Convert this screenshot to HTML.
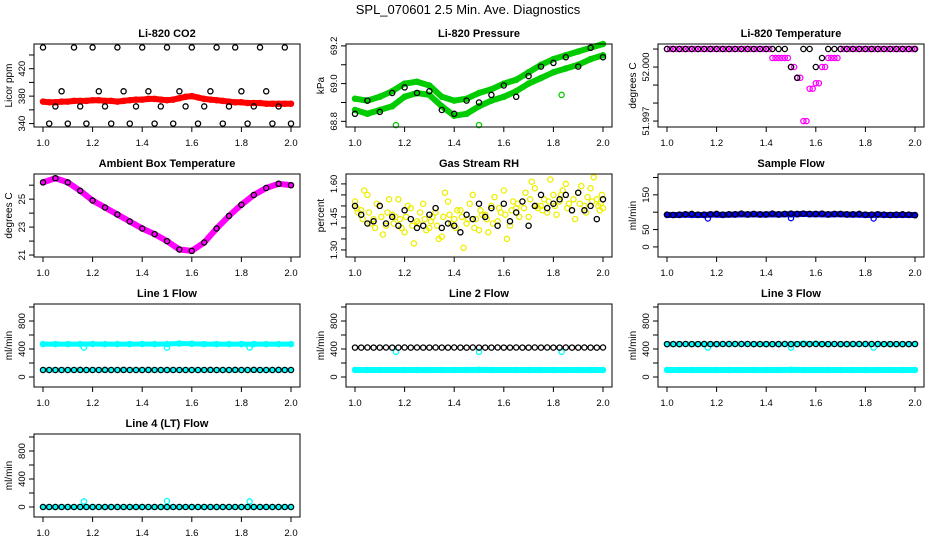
<!DOCTYPE html>
<html><head><meta charset="utf-8">
<style>
html,body{margin:0;padding:0;background:#fff;}
svg{display:block;font-family:"Liberation Sans",Arial,sans-serif;}
</style></head>
<body>
<svg id="chart" width="936" height="540" viewBox="0 0 936 540">
<text x="468" y="14" text-anchor="middle" font-size="13">SPL_070601  2.5 Min. Ave. Diagnostics</text>
</svg>
<script>
// ---- shared x categories ----
const t41 = [1.000,1.025,1.050,1.075,1.100,1.125,1.150,1.175,1.200,1.225,1.250,1.275,1.300,1.325,1.350,1.375,1.400,1.425,1.450,1.475,1.500,1.525,1.550,1.575,1.600,1.625,1.650,1.675,1.700,1.725,1.750,1.775,1.800,1.825,1.850,1.875,1.900,1.925,1.950,1.975,2.000];
const t41b = [1.0125,1.0375,1.0625,1.0875,1.1125,1.1375,1.1625,1.1875,1.2125,1.2375,1.2625,1.2875,1.3125,1.3375,1.3625,1.3875,1.4125,1.4375,1.4625,1.4875,1.5125,1.5375,1.5625,1.5875,1.6125,1.6375,1.6625,1.6875,1.7125,1.7375,1.7625,1.7875,1.8125,1.8375,1.8625,1.8875,1.9125,1.9375,1.9625,1.9875,1.995];
const t41c = [1.006,1.031,1.056,1.081,1.106,1.131,1.156,1.181,1.206,1.231,1.256,1.281,1.306,1.331,1.356,1.381,1.406,1.431,1.456,1.481,1.506,1.531,1.556,1.581,1.606,1.631,1.656,1.681,1.706,1.731,1.756,1.781,1.806,1.831,1.856,1.881,1.906,1.931,1.956,1.981,1.990];
const t21 = [1.00,1.05,1.10,1.15,1.20,1.25,1.30,1.35,1.40,1.45,1.50,1.55,1.60,1.65,1.70,1.75,1.80,1.85,1.90,1.95,2.00];
const spikeX = [1.165,1.500,1.833];
const xTicks = [1.0,1.2,1.4,1.6,1.8,2.0];
const xTickLabels = ["1.0","1.2","1.4","1.6","1.8","2.0"];

// ---- CO2 ----
const co2Red = [372,371,371,372,372,373,373,373,374,374,373,373,372,373,374,375,375,376,376,375,374,375,377,379,380,378,376,375,374,373,372,371,371,370,370,370,369,369,369,369,369];
const co2Black = [451,340,365,387,340,451,365,340,451,387,365,340,451,387,340,365,451,387,340,365,451,340,387,365,451,340,365,387,451,340,365,451,387,340,365,451,387,340,365,451,340];
const co2Ticks = [340,360,380,400,420,440];
const co2Labels = ["340","","380","","420",""];

// ---- Pressure ----
const presUpper = [68.92,68.91,68.93,68.96,69.00,69.01,68.99,68.93,68.91,68.92,68.95,68.97,69.00,69.02,69.06,69.10,69.13,69.15,69.17,69.19,69.21];
const presLower = [68.86,68.84,68.86,68.88,68.93,68.95,68.94,68.88,68.83,68.84,68.88,68.91,68.93,68.96,69.00,69.03,69.06,69.08,69.10,69.13,69.15];
const presBlack = [68.84,68.91,68.85,68.95,68.98,68.95,68.96,68.86,68.84,68.91,68.90,68.94,68.99,68.93,69.04,69.09,69.11,69.14,69.09,69.19,69.14];
const presOut = [68.78,68.78,68.94];
const presTicks = [68.8,68.9,69.0,69.1,69.2];
const presLabels = ["68.8","","69.0","","69.2"];

// ---- Li-820 Temperature ----
const tempPink = [52.001,52.001,52.001,52.001,52.001,52.001,52.001,52.001,52.001,52.001,52.001,52.001,52.001,52.001,52.001,52.001,52.001,52.0005,52.0005,52.0005,52.000,51.9994,51.9970,51.9988,51.9991,52.000,52.0005,52.0005,52.001,52.001,52.001,52.001,52.001,52.001,52.001,52.001,52.001,52.001,52.001,52.001,52.001];
const tempBlack = [52.001,52.001,52.001,52.001,52.001,52.001,52.001,52.001,52.001,52.001,52.001,52.001,52.001,52.001,52.001,52.001,52.001,52.001,52.001,52.001,52.000,51.9994,52.001,52.001,52.000,52.0005,52.001,52.001,52.001,52.001,52.001,52.001,52.001,52.001,52.001,52.001,52.001,52.001,52.001,52.001,52.001];
const tempTicks = [51.997,51.998,51.999,52.000,52.001];
const tempLabels = ["51.997","","","52.000",""];

// ---- Ambient box temperature ----
const ambient = [26.2,26.5,26.2,25.6,24.9,24.4,23.9,23.4,22.9,22.5,22.0,21.4,21.3,21.9,22.9,23.8,24.6,25.3,25.8,26.1,26.0];
const ambTicks = [21,22,23,24,25,26];
const ambLabels = ["21","","23","","25",""];

// ---- Gas stream RH ----
const rhYellowA = [1.52,1.48,1.55,1.44,1.50,1.41,1.46,1.53,1.38,1.49,1.43,1.51,1.40,1.47,1.36,1.52,1.44,1.48,1.42,1.55,1.39,1.46,1.50,1.43,1.57,1.41,1.49,1.52,1.45,1.58,1.50,1.47,1.55,1.52,1.60,1.48,1.56,1.50,1.58,1.53,1.49];
const rhYellowB = [1.47,1.57,1.42,1.51,1.37,1.53,1.45,1.40,1.50,1.33,1.47,1.39,1.45,1.35,1.56,1.42,1.48,1.31,1.51,1.44,1.46,1.38,1.54,1.47,1.35,1.52,1.45,1.56,1.61,1.49,1.53,1.62,1.46,1.57,1.51,1.44,1.59,1.54,1.63,1.48,1.55];
const rhYellowC = [1.49,1.44,1.47,1.40,1.45,1.47,1.42,1.44,1.45,1.41,1.42,1.44,1.43,1.41,1.45,1.46,1.40,1.45,1.44,1.40,1.48,1.44,1.42,1.49,1.46,1.48,1.51,1.49,1.53,1.50,1.48,1.52,1.50,1.55,1.49,1.53,1.51,1.47,1.52,1.50,1.51];
const rhBlack = [1.50,1.46,1.42,1.43,1.50,1.42,1.45,1.41,1.48,1.44,1.40,1.41,1.46,1.49,1.40,1.42,1.41,1.38,1.46,1.44,1.51,1.45,1.49,1.41,1.51,1.43,1.47,1.52,1.41,1.50,1.55,1.49,1.51,1.53,1.55,1.48,1.56,1.48,1.50,1.44,1.53];
const rhTicks = [1.30,1.35,1.40,1.45,1.50,1.55,1.60];
const rhLabels = ["1.30","","","1.45","","","1.60"];

// ---- Sample flow ----
const sampBlue = [92,92,92,93,92,92,92,93,93,92,93,93,94,93,94,93,93,94,93,94,94,94,95,94,94,94,93,94,94,93,93,93,92,92,93,92,92,92,92,92,92];
const sampBlack = [93,92,93,94,95,93,93,94,95,93,94,94,96,94,95,94,94,96,94,95,96,95,96,95,95,96,94,95,95,94,94,95,93,93,94,93,92,93,94,93,91];
const sampDips = [82,83,82];
const sampTicks = [0,50,100,150,200];
const sampLabels = ["0","50","","150",""];

// ---- Line flows ----
const l1Hi = [470,470,470,470,471,470,470,470,471,470,472,478,474,470,470,470,470,470,470,470,470];
const l1Lo = [100,100,100,100,100,100,100,100,100,100,100,100,100,100,100,100,100,100,100,100,100];
const l1Black = [100,100,100,100,100,100,101,100,100,100,101,100,100,101,100,100,100,101,100,100,100];
const l2Cyan = [100,100,100,100,100,100,100,100,100,100,101,100,100,100,100,100,100,100,100,100,100];
const l2Black = [420,420,421,420,420,421,420,420,421,420,421,420,420,421,420,420,421,420,420,421,420];
const l3Hi = [470,470,470,470,470,470,471,470,470,470,472,478,475,470,470,470,470,470,470,470,470];
const l3Lo = [100,100,100,100,100,100,100,100,100,100,101,100,100,100,100,100,100,100,100,100,100];
const l3Black = [470,470,470,471,470,470,471,470,470,471,472,472,471,471,470,470,470,470,470,471,470];
const l4Cyan = [0,0,0,0,0,0,0,0,0,0,0,0,0,0,0,0,0,0,0,0,0];
const l4Black = [0,0,0,0,0,0,0,0,0,0,0,0,0,0,0,0,0,0,0,0,0];
const flowSpikes = [80,85,80];
const flowDips = [420,420,420];
const flowTicks = [0,200,400,600,800,1000];
const flowLabels = ["0","","400","","800",""];

const NS = "http://www.w3.org/2000/svg";
const svg = document.getElementById("chart");
function mk(tag, attrs, parent){
  const e = document.createElementNS(NS, tag);
  for (const k in attrs) e.setAttribute(k, attrs[k]);
  (parent||svg).appendChild(e);
  return e;
}
const COLL = [34,346,658];
const ROWT = [44,174,304,434];
const W = 266, H = 83;

function panel(cfg){
  const L = COLL[cfg.col], T = ROWT[cfg.row], R = L+W, B = T+H;
  const g = mk("g", {});
  
  
  const xs = v => L + 9 + (v-1)*248;
  const ys = v => B - (v-cfg.ylim[0])/(cfg.ylim[1]-cfg.ylim[0])*H;
  cfg.layers.forEach(ly => {
    const lg = mk("g", {}, g);
    
    
    if (ly.band){
      const pts = ly.x.map((x,i)=>xs(x).toFixed(1)+","+ys(ly.y[i]).toFixed(1)).join(" ");
      const pl = mk("polyline", {points:pts, fill:"none", stroke:ly.color, "stroke-width":ly.band, "stroke-linejoin":"round", "stroke-linecap":"round"}, lg);
      
      
    }
    if (ly.pts !== false){
      ly.x.forEach((x,i)=>{
        const c = mk("circle", {cx:xs(x).toFixed(1), cy:ys(ly.y[i]).toFixed(1), r:2.6, fill:"none", stroke:ly.color, "stroke-width":1.3}, lg);
        
        
      });
    }
  });
  const box = mk("rect", {x:L, y:T, width:W, height:H, fill:"none", stroke:"#000", "stroke-width":1}, g);
  
  
  const xa = mk("g", {}, g);
  
  
  mk("line", {x1:xs(xTicks[0]), x2:xs(xTicks[xTicks.length-1]), y1:B, y2:B, stroke:"#000"}, xa);
  xTicks.forEach((v,i)=>{
    mk("line", {x1:xs(v), x2:xs(v), y1:B, y2:B+5, stroke:"#000"}, xa);
    const tx = mk("text", {x:xs(v), y:B+19, "text-anchor":"middle", "font-size":9.5}, xa);
    
    
    tx.textContent = xTickLabels[i];
  });
  const ya = mk("g", {}, g);
  
  
  mk("line", {x1:L, x2:L, y1:ys(cfg.yt[0]), y2:ys(cfg.yt[cfg.yt.length-1]), stroke:"#000"}, ya);
  cfg.yt.forEach((v,i)=>{
    const y = ys(v);
    mk("line", {x1:L-5, x2:L, y1:y, y2:y, stroke:"#000"}, ya);
    if (cfg.yl[i]){
      const tx = mk("text", {x:L-9, y:y, "text-anchor":"middle", "font-size":9.5, transform:`rotate(-90 ${L-9} ${y})`}, ya);
      
      
      tx.textContent = cfg.yl[i];
    }
  });
  const yt = mk("text", {x:L-22, y:(T+B)/2, "text-anchor":"middle", "font-size":10, transform:`rotate(-90 ${L-22} ${(T+B)/2})`}, g);
  
  
  yt.textContent = cfg.ylab;
  const ti = mk("text", {x:(L+R)/2, y:T-7, "text-anchor":"middle", "font-size":11, "font-weight":"bold"}, g);
  
  
  ti.textContent = cfg.title;
}

const FL = [-143,1043];
panel({name:"co2-panel", col:0,row:0,title:"Li-820 CO2",ylab:"Licor ppm",ylim:[335,456],yt:co2Ticks,yl:co2Labels,layers:[
  {name:"co2-red",x:t41,y:co2Red,color:"#f00",band:6},
  {name:"co2-black",x:t41,y:co2Black,color:"#000"}]});
panel({name:"pressure-panel", col:1,row:0,title:"Li-820 Pressure",ylab:"kPa",ylim:[68.77,69.21],yt:presTicks,yl:presLabels,layers:[
  {name:"pressure-upper",x:t21,y:presUpper,color:"#0c0",band:6},
  {name:"pressure-lower",x:t21,y:presLower,color:"#0c0",band:6},
  {name:"pressure-outliers",x:spikeX,y:presOut,color:"#0c0"},
  {name:"pressure-black",x:t21,y:presBlack,color:"#000"}]});
panel({name:"li820-temp-panel", col:2,row:0,title:"Li-820 Temperature",ylab:"degrees C",ylim:[51.99667,52.00128],yt:tempTicks,yl:tempLabels,layers:[
  {name:"temp-pink",x:t41,y:tempPink,color:"#f0f"},
  {name:"temp-pink-b",x:t41b,y:tempPink,color:"#f0f"},
  {name:"temp-black",x:t41,y:tempBlack,color:"#000"}]});
panel({name:"ambient-panel", col:0,row:1,title:"Ambient Box Temperature",ylab:"degrees C",ylim:[20.86,26.8],yt:ambTicks,yl:ambLabels,layers:[
  {name:"ambient-magenta",x:t21,y:ambient,color:"#f0f",band:6,pts:false},
  {name:"ambient-black",x:t21,y:ambient,color:"#000"}]});
panel({name:"rh-panel", col:1,row:1,title:"Gas Stream RH",ylab:"percent",ylim:[1.268,1.645],yt:rhTicks,yl:rhLabels,layers:[
  {name:"rh-yellow-a",x:t41,y:rhYellowA,color:"#ee0"},
  {name:"rh-yellow-b",x:t41b,y:rhYellowB,color:"#ee0"},
  {name:"rh-yellow-c",x:t41c,y:rhYellowC,color:"#ee0"},
  {name:"rh-black",x:t41,y:rhBlack,color:"#000"}]});
panel({name:"sample-flow-panel", col:2,row:1,title:"Sample Flow",ylab:"ml/min",ylim:[-29,210],yt:sampTicks,yl:sampLabels,layers:[
  {name:"sample-blue",x:t41,y:sampBlue,color:"#00f",band:6},
  {name:"sample-dips",x:spikeX,y:sampDips,color:"#00f"},
  {name:"sample-black",x:t41,y:sampBlack,color:"#000"}]});
panel({name:"line1-panel", col:0,row:2,title:"Line 1 Flow",ylab:"ml/min",ylim:FL,yt:flowTicks,yl:flowLabels,layers:[
  {name:"line1-cyan-high",x:t21,y:l1Hi,color:"#0ff",band:5},
  {name:"line1-cyan-dips",x:spikeX,y:flowDips,color:"#0ff"},
  {name:"line1-cyan-low",x:t21,y:l1Lo,color:"#0ff",band:5,pts:false},
  {name:"line1-black",x:t41,y:l1Black.concat(l1Black).slice(0,41),color:"#000"}]});
panel({name:"line2-panel", col:1,row:2,title:"Line 2 Flow",ylab:"ml/min",ylim:FL,yt:flowTicks,yl:flowLabels,layers:[
  {name:"line2-cyan",x:t21,y:l2Cyan,color:"#0ff",band:6},
  {name:"line2-cyan-dips",x:spikeX,y:[360,360,360],color:"#0ff"},
  {name:"line2-black",x:t41,y:l2Black.concat(l2Black).slice(0,41),color:"#000"}]});
panel({name:"line3-panel", col:2,row:2,title:"Line 3 Flow",ylab:"ml/min",ylim:FL,yt:flowTicks,yl:flowLabels,layers:[
  {name:"line3-cyan-high",x:t21,y:l3Hi,color:"#0ff",band:5},
  {name:"line3-cyan-low",x:t21,y:l3Lo,color:"#0ff",band:6},
  {name:"line3-cyan-dips",x:spikeX,y:flowDips,color:"#0ff"},
  {name:"line3-black",x:t41,y:l3Black.concat(l3Black).slice(0,41),color:"#000"}]});
panel({name:"line4-panel", col:0,row:3,title:"Line 4 (LT) Flow",ylab:"ml/min",ylim:FL,yt:flowTicks,yl:flowLabels,layers:[
  {name:"line4-cyan",x:t21,y:l4Cyan,color:"#0ff",band:5},
  {name:"line4-cyan-spikes",x:spikeX,y:flowSpikes,color:"#0ff"},
  {name:"line4-black",x:t41,y:l4Black.concat(l4Black).slice(0,41),color:"#000"}]});
</script>
</body></html>
